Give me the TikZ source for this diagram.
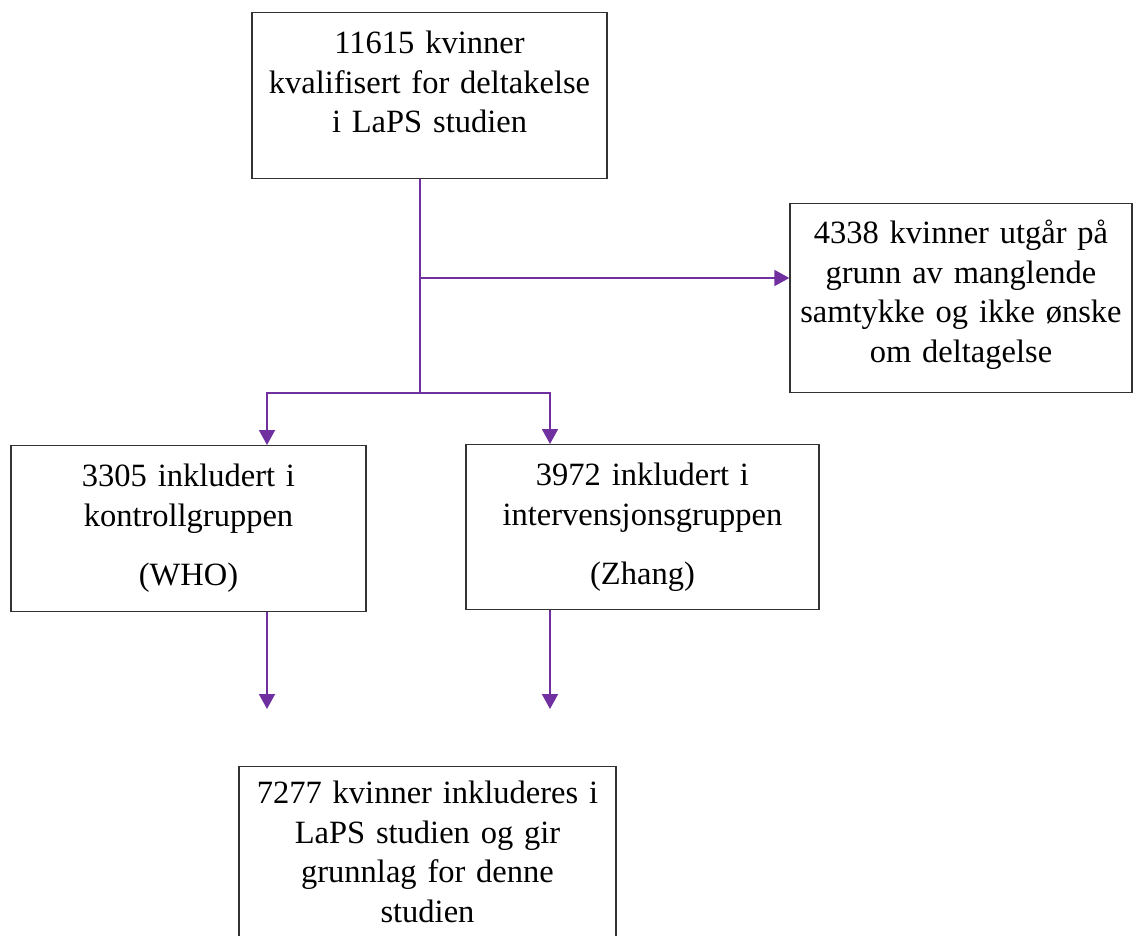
\documentclass[tikz,border=0pt]{standalone}
\usepackage{fontspec}
\setmainfont{Liberation Serif}
\usetikzlibrary{arrows.meta}
\definecolor{flowpurple}{RGB}{112,48,160}

\begin{document}
\begin{tikzpicture}[x=1pt, y=-1pt]
    \tikzstyle{stepbox} = [rectangle, draw=black!80, line width=1.3pt, inner sep=0pt, align=center, anchor=north, font=\fontsize{32.5}{39.5}\selectfont, text height=41pt]
    \tikzstyle{flow} = [flowpurple, line width=1.8pt]
    \tikzstyle{flowarrow} = [flow, -{Triangle[length=15pt, width=16pt]}]

    \useasboundingbox (0,0) rectangle (1133,936);

    % Boxes
    \node[stepbox, text width=355pt, text depth=125pt] (eligible) at (429.5,12) {11615 kvinner\\kvalifisert for deltakelse\\i LaPS studien};
    \node[stepbox, text width=342pt, text height=40pt, text depth=149pt] (excluded) at (961,203) {4338 kvinner utgår på\\grunn av manglende\\samtykke og ikke ønske\\om deltagelse};
    \node[stepbox, text width=355pt, text depth=125pt] (control) at (188.5,445) {3305 inkludert i\\kontrollgruppen\\[20pt](WHO)};
    \node[stepbox, text width=353pt, text depth=124pt] (intervention) at (642.5,444) {3972 inkludert i\\intervensjonsgruppen\\[20pt](Zhang)};
    \node[stepbox, text width=377pt, text height=37pt, text depth=250pt] (included) at (427.5,766) {7277 kvinner inkluderes i\\LaPS studien og gir\\grunnlag for denne\\studien};

    % Branch points
    \coordinate (branch) at (420,278);
    \coordinate (split) at (420,393);
    \coordinate (ctrlin) at (267,393);
    \coordinate (intin) at (550,393);
    \coordinate (ctrlout) at (267,709);
    \coordinate (intout) at (550,709);

    % Arrows
    \draw[flow] (eligible.south -| split) -- (split);
    \draw[flowarrow] (branch) -- (branch -| excluded.west);
    \draw[flowarrow] (split) -- (ctrlin) -- (ctrlin |- control.north);
    \draw[flowarrow] (split) -- (intin) -- (intin |- intervention.north);
    \draw[flowarrow] (control.south -| ctrlout) -- (ctrlout);
    \draw[flowarrow] (intervention.south -| intout) -- (intout);
\end{tikzpicture}
\end{document}
